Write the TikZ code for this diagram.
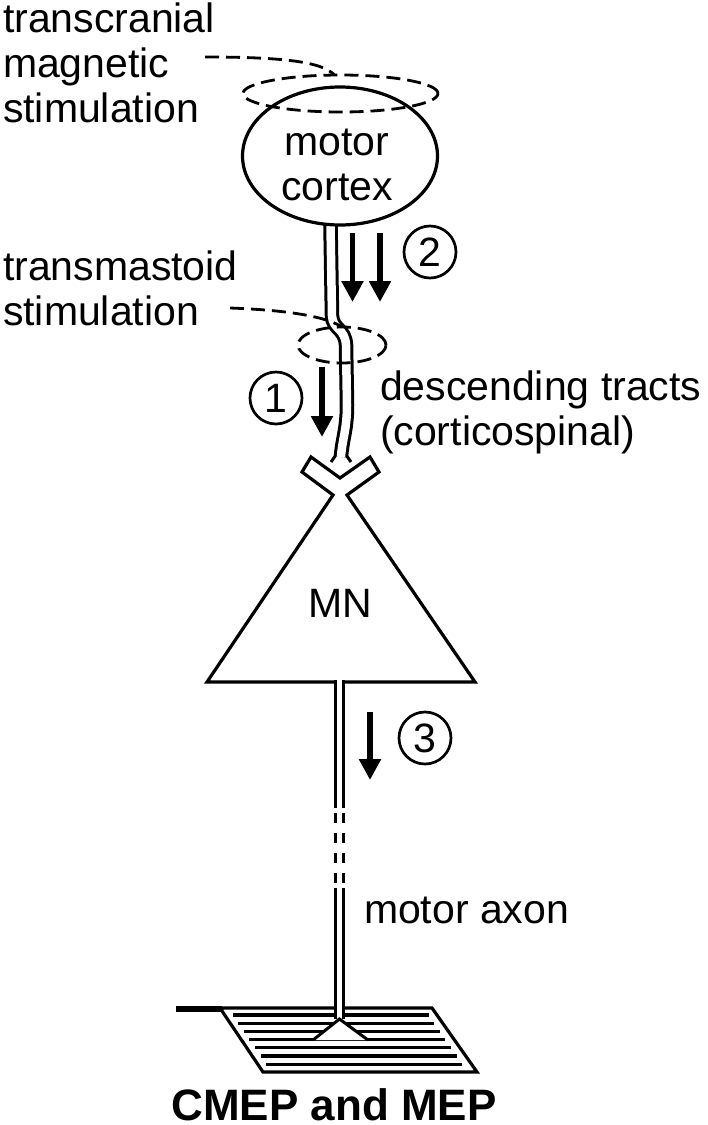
\documentclass[tikz,border=0pt]{standalone}
\usepackage{fontspec}
\setmainfont{Liberation Sans}
\usetikzlibrary{shapes.geometric,arrows.meta}
\pgfdeclarelayer{background}
\pgfsetlayers{background,main}
\begin{document}
\begin{tikzpicture}[x=1pt,y=-1pt,
  every node/.style={font=\fontsize{41}{45}\selectfont, inner sep=0pt, outer sep=0pt},
  outline/.style={line width=3.2pt, line join=miter},
  tmsdash/.style={line width=2.8pt, dash pattern=on 14pt off 7pt},
  bigarrow/.style={line width=5.5pt, -{Triangle[width=21pt,length=21pt]}},
  numcircle/.style={circle, draw, line width=2.7pt, minimum size=52pt},
  tract/.style={line width=3pt, double=white, double distance=8.5pt},
  axon/.style={line width=3pt, double=white, double distance=4.6pt}]

\useasboundingbox (0,0) rectangle (708,1125);

% labels
\node[anchor=base west] (tms1) at (3,32) {transcranial};
\node[anchor=base west] (tms2) at (3,77) {magnetic};
\node[anchor=base west] (tms3) at (3,122) {stimulation};
\node[anchor=base west] (tm1) at (3,280) {transmastoid};
\node[anchor=base west] (tm2) at (3,325) {stimulation};
\node[anchor=base west] (desc1) at (380,400) {descending tracts};
\node[anchor=base west] (desc2) at (380,445) {(corticospinal)};
\node[anchor=base west] (axlab) at (364,923) {motor axon};

% motor cortex
\node[draw, ellipse, outline, fill=white, minimum width=195pt, minimum height=138pt] (cortex) at (340,156) {};
\node[anchor=base] (cortex1) at (337,155) {motor};
\node[anchor=base] (cortex2) at (337,200) {cortex};

% stimulation rings
\node[draw, ellipse, tmsdash, minimum width=195pt, minimum height=37pt] (tmsring) at (340.5,93.5) {};
\node[draw, ellipse, tmsdash, minimum width=88pt, minimum height=36pt] (mastring) at (342,345) {};
\coordinate (lead1) at (205,57);
\coordinate (lead2) at (230,308);
\draw[tmsdash] (lead1) .. controls (285,57) and (322,62) .. ([xshift=-6pt]tmsring.north);
\draw[tmsdash] (lead2) .. controls (285,310) and (325,316) .. (mastring.north);

% descending tract
\coordinate (tractend) at (341,457);
\begin{pgfonlayer}{background}
\draw[tract] ([yshift=8pt]cortex.262) -- (332,316) .. controls (333,330) and (345,328) .. (346,345)
  -- (347,405) .. controls (347,430) and (342,440) .. (tractend);
\end{pgfonlayer}
\draw[line width=3pt] (335.2,456) -- (331,462);
\draw[line width=3pt] (346.8,456) -- (351,462);

% motoneuron with synapse
\draw[outline] (207,682) -- (333,495) -- (302,472) -- (311,457) -- (340,478) -- (370,457)
  -- (379,472) -- (347,495) -- (475,682) -- cycle;
\node[anchor=base] (mn) at (340,617) {MN};

% muscle
\draw[outline] (220,1008) -- (432,1008) -- (477,1072) -- (263,1072) -- cycle;
\draw[line width=6pt] (176,1009) -- (222,1009);
\foreach \yy in {1015,1023.2,1031.4,1039.6,1047.8,1056,1064.2}
  \draw[line width=3.2pt] ({228+(\yy-1008)*0.68},\yy) -- ({424+(\yy-1008)*0.68},\yy);

% motor axon
\coordinate (axtop) at (339.5,680.4);
\coordinate (endplate) at (339.5,1019);
\draw[axon, dash pattern=on 127.6pt off 5pt on 10pt off 10pt on 10pt off 10pt on 10pt off 10pt on 10pt off 5pt on 200pt] (axtop) -- (endplate);
\fill[white] (endplate) -- (313,1040) -- (368,1040) -- cycle;
\draw[line width=3pt, line join=miter] (313,1040) -- (endplate) -- (368,1040);

% arrows
\coordinate (a2s) at (352.5,233); \coordinate (a2e) at (352.5,302);
\coordinate (b2s) at (380,233);   \coordinate (b2e) at (380,302);
\coordinate (a1s) at (322,367);   \coordinate (a1e) at (322,437);
\coordinate (a3s) at (370,712);   \coordinate (a3e) at (370,780);
\draw[bigarrow] (a2s) -- (a2e);
\draw[bigarrow] (b2s) -- (b2e);
\draw[bigarrow] (a1s) -- (a1e);
\draw[bigarrow] (a3s) -- (a3e);

% numbers
\node[numcircle] (n1) at (276,398) {1};
\node[numcircle] (n2) at (430,252) {2};
\node[numcircle] (n3) at (425,738) {3};

% caption
\node[anchor=base, font=\fontsize{44}{50}\selectfont\bfseries] (cmep) at (334,1120.5) {CMEP and MEP};
\end{tikzpicture}
\end{document}
